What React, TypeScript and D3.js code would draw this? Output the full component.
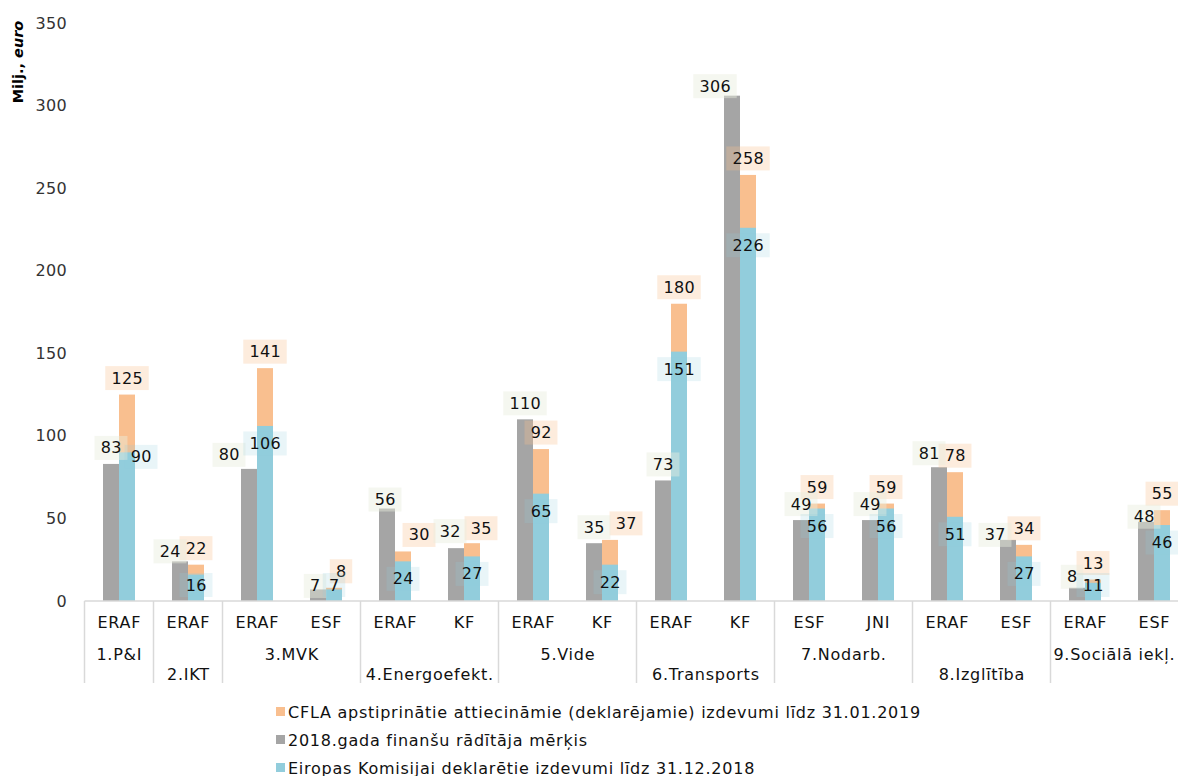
import React from "react";
import * as d3 from "d3";

const groups = ["1.P&I", "2.IKT", "3.MVK", "4.Energoefekt.", "5.Vide", "6.Transports", "7.Nodarb.", "8.Izglītība", "9.Sociālā iekļ."];
const funds = ["ERAF", "ERAF", "ERAF", "ESF", "ERAF", "KF", "ERAF", "KF", "ERAF", "KF", "ESF", "JNI", "ERAF", "ESF", "ERAF", "ESF"];
const groupOf = [0, 1, 2, 2, 3, 3, 4, 4, 5, 5, 6, 6, 7, 7, 8, 8];
const target2018 = [83, 24, 80, 7, 56, 32, 110, 35, 73, 306, 49, 49, 81, 37, 8, 48];
const cflaApproved = [125, 22, 141, 8, 30, 35, 92, 37, 180, 258, 59, 59, 78, 34, 13, 55];
const ecDeclared = [90, 16, 106, 7, 24, 27, 65, 22, 151, 226, 56, 56, 51, 27, 11, 46];
const yTicks = [0, 50, 100, 150, 200, 250, 300, 350];

const legendItems = [
  { label: "CFLA apstiprinātie attiecināmie (deklarējamie) izdevumi līdz 31.01.2019", color: "#f9bf8f" },
  { label: "2018.gada finanšu rādītāja mērķis", color: "#a5a5a5" },
  { label: "Eiropas Komisijai deklarētie izdevumi līdz 31.12.2018", color: "#92cddc" },
];

// manual label nudges (layout only), [dx, dy]
const grayNudge: Record<number, [number, number]> = {
  1: [-10, 6], 2: [-20, 2], 3: [-3, 12.5], 4: [-2, 7], 5: [-6, -1], 9: [-17, 6.5],
  12: [-10, 2], 13: [-13, 11], 14: [-5, 5], 15: [-2, 11],
};
const orangeNudge: Record<number, [number, number]> = { 3: [7, 0], 4: [16, 0], 5: [9, 1.5], 7: [16, 0] };
const blueNudge: Record<number, [number, number]> = { 0: [14, -13] };

const W = 1178, H = 776;
const FONT = "'DejaVu Sans', Verdana, sans-serif";
const FS = 16;
const LS_TEXT = 0.75;
const LS_NUM = 0.3;

function measure(text: string, ls: number): number {
  try {
    const ctx = document.createElement("canvas").getContext("2d")!;
    ctx.font = `${FS}px 'DejaVu Sans'`;
    return ctx.measureText(text).width + ls * text.length;
  } catch {
    return text.length * FS * 0.5;
  }
}

function Label({ x, y, text, bg }: { x: number; y: number; text: string; bg: string }) {
  const w = text.length * (FS * 0.636 + LS_NUM) + 12;
  const h = 24;
  return (
    <g>
      <rect x={x - w / 2} y={y - h / 2} width={w} height={h} fill={bg} />
      <text x={x + LS_NUM / 2} y={y} textAnchor="middle" dominantBaseline="central" fontSize={FS} letterSpacing={LS_NUM} fill="#111" fontFamily={FONT}>
        {text}
      </text>
    </g>
  );
}

export default function App() {
  const idx = funds.map((_, i) => i);
  const bw = 69;
  const x0 = 84.5;
  const x = d3.scaleBand<number>().domain(idx).range([x0, x0 + bw * idx.length]);
  const y = d3.scaleLinear().domain([0, 350]).range([601, 23]);
  const barW = 16;
  const axisY = y(0);

  const groupSpans = groups.map((g, gi) => {
    const members = idx.filter((i) => groupOf[i] === gi);
    const start = x(members[0])!;
    const end = x(members[members.length - 1])! + x.bandwidth();
    const tw = measure(g, LS_TEXT);
    const cx = Math.min((start + end) / 2, W - 3 - tw / 2);
    return { g, gi, start, end, cx };
  });

  return (
    <svg width={W} height={H} style={{ position: "absolute", left: 0, top: 0, background: "#fff" }} fontFamily={FONT}>
      <text transform={`translate(23,62) rotate(-90)`} textAnchor="middle" fontSize={14.5} fontWeight="bold" fill="#000">
        Milj., <tspan fontStyle="italic">euro</tspan>
      </text>
      {yTicks.map((t) => (
        <text key={t} x={67} y={y(t)} textAnchor="end" dominantBaseline="central" fontSize={FS} letterSpacing={LS_NUM} fill="#333">
          {t}
        </text>
      ))}
      {idx.map((i) => {
        const c = x(i)! + x.bandwidth() / 2;
        return (
          <g key={i}>
            <rect x={c - barW} y={y(target2018[i])} width={barW} height={axisY - y(target2018[i])} fill="#a5a5a5" />
            <rect x={c} y={y(cflaApproved[i])} width={barW} height={axisY - y(cflaApproved[i])} fill="#f9bf8f" />
            <rect x={c} y={y(ecDeclared[i])} width={barW} height={axisY - y(ecDeclared[i])} fill="#92cddc" />
          </g>
        );
      })}
      <line x1={x0} x2={W} y1={axisY} y2={axisY} stroke="#d9d9d9" strokeWidth={1.5} />
      {groupSpans.map((s) => (
        <line key={"sep" + s.gi} x1={s.start} x2={s.start} y1={axisY} y2={683} stroke="#d9d9d9" strokeWidth={1.5} />
      ))}
      {idx.map((i) => (
        <text key={"f" + i} x={x(i)! + x.bandwidth() / 2 + LS_TEXT / 2} y={622} textAnchor="middle" dominantBaseline="central" fontSize={FS} letterSpacing={LS_TEXT} fill="#111">
          {funds[i]}
        </text>
      ))}
      {groupSpans.map((s) => (
        <text key={"g" + s.gi} x={s.cx + LS_TEXT / 2} y={s.gi % 2 === 0 ? 654 : 674} textAnchor="middle" dominantBaseline="central" fontSize={FS} letterSpacing={LS_TEXT} fill="#111">
          {s.g}
        </text>
      ))}
      {idx.map((i) => {
        const c = x(i)! + x.bandwidth() / 2;
        const n = orangeNudge[i] || [0, 0];
        return <Label key={"lo" + i} x={c + barW / 2 + n[0]} y={y(cflaApproved[i]) - 16.5 + n[1]} text={String(cflaApproved[i])} bg="rgba(249,191,143,0.3)" />;
      })}
      {idx.map((i) => {
        const c = x(i)! + x.bandwidth() / 2;
        const n = grayNudge[i] || [0, 0];
        return <Label key={"lg" + i} x={c - barW / 2 + n[0]} y={y(target2018[i]) - 16 + n[1]} text={String(target2018[i])} bg="rgba(232,238,222,0.45)" />;
      })}
      {idx.map((i) => {
        const c = x(i)! + x.bandwidth() / 2;
        const n = blueNudge[i] || [0, 0];
        const cy = Math.min(y(ecDeclared[i]) + 17.5, 585);
        return <Label key={"lb" + i} x={c + barW / 2 + n[0]} y={cy + n[1]} text={String(ecDeclared[i])} bg="rgba(146,205,220,0.2)" />;
      })}
      {legendItems.map((it, k) => (
        <g key={it.label} transform={`translate(276,${712 + k * 28})`}>
          <rect x={0} y={-5} width={9} height={9} fill={it.color} />
          <text x={12} y={0} dominantBaseline="central" fontSize={FS} letterSpacing={LS_TEXT} fill="#111">
            {it.label}
          </text>
        </g>
      ))}
    </svg>
  );
}
